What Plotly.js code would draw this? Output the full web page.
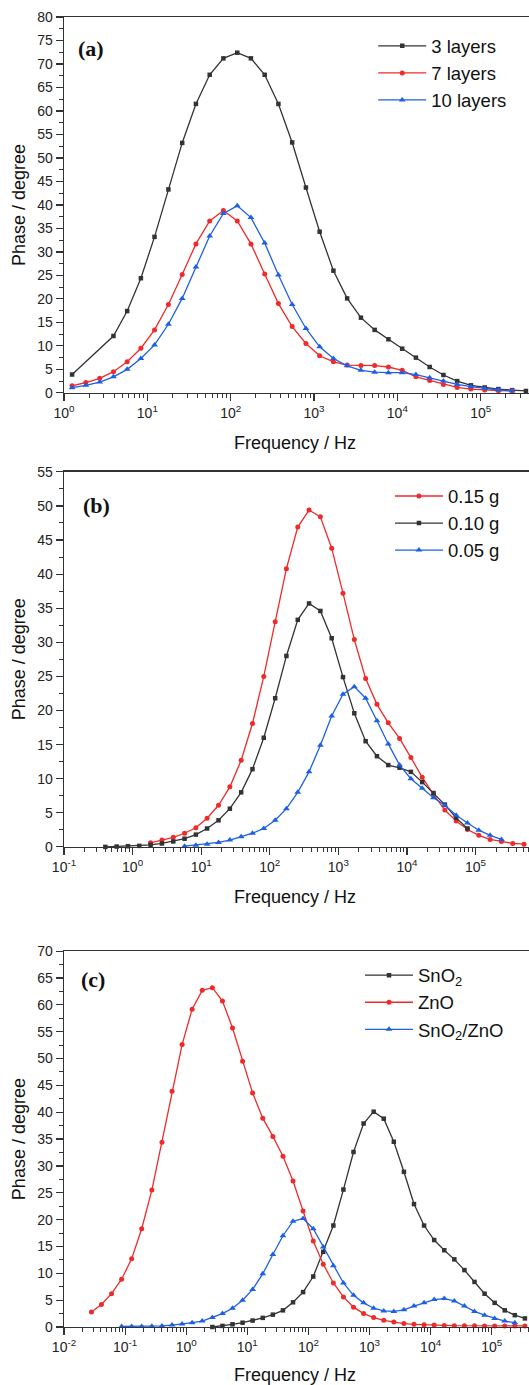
<!DOCTYPE html>
<html><head><meta charset="utf-8">
<script src="https://cdn.plot.ly/plotly-3.0.1.min.js"></script>
<style>html,body{margin:0;padding:0;background:#fff}</style>
</head><body><div id="chart" style="width:529px;height:1385px"></div>
<script>
// ---------- Data (frequency in Hz, phase in degree) ----------
const freqA = [1.25, 1.83, 2.68, 3.92, 5.73, 8.37, 12.2, 17.9, 26.2, 38.3, 56.0, 81.8, 120, 175, 256, 374, 547, 800, 1169, 1710, 2500, 3656, 5346, 7816, 11429, 16711, 24434, 35727, 52240, 76383, 111686, 163305, 238781, 349140];
const layers3 = [3.9, null, null, 12.1, 17.4, 24.4, 33.2, 43.3, 53.2, 61.5, 67.7, 71.2, 72.4, 71.2, 67.7, 61.5, 53.3, 43.7, 34.3, 26.0, 20.1, 16.0, 13.4, 11.4, 9.4, 7.5, 5.5, 3.8, 2.5, 1.6, 1.15, 0.8, 0.57, 0.4];
const layers7 = [1.5, 2.2, 3.1, 4.5, 6.6, 9.5, 13.4, 18.8, 25.2, 31.7, 36.6, 38.8, 36.6, 31.7, 25.3, 19.0, 14.1, 10.5, 7.9, 6.6, 5.9, 5.8, 5.8, 5.5, 4.8, 3.4, 2.6, 1.8, 1.15, 0.8, 0.6, 0.45, 0.4, null];
const layers10 = [1.1, 1.6, 2.3, 3.4, 5.0, 7.3, 10.2, 14.6, 20.1, 26.8, 33.4, 38.2, 39.8, 37.3, 31.9, 25.1, 18.8, 13.7, 9.8, 7.3, 5.75, 4.8, 4.4, 4.3, 4.3, 3.9, 3.2, 2.5, 1.8, 1.3, 0.9, 0.6, 0.45, null];

const freqB = [0.401, 0.586, 0.857, 1.25, 1.83, 2.68, 3.92, 5.73, 8.37, 12.2, 17.9, 26.2, 38.3, 56.0, 81.8, 120, 175, 256, 374, 547, 800, 1169, 1710, 2500, 3656, 5346, 7816, 11429, 16711, 24434, 35727, 52240, 76383, 111686, 163305, 238781, 349140, 510505];
const g015 = [null, null, null, null, 0.6, 1.0, 1.4, 2.0, 2.8, 4.2, 6.1, 8.8, 12.7, 18.1, 25.0, 33.0, 40.8, 46.9, 49.4, 48.4, 43.8, 37.2, 30.4, 24.7, 20.9, 18.2, 15.9, 13.1, 10.2, 7.7, 5.4, 3.8, 2.55, 1.7, 1.1, 0.8, 0.5, 0.4];
const g010 = [0.0, 0.05, 0.1, 0.15, 0.3, 0.5, 0.8, 1.2, 1.8, 2.7, 3.9, 5.6, 8.0, 11.4, 16.0, 21.8, 28.0, 33.3, 35.7, 34.6, 30.6, 24.9, 19.6, 15.5, 13.3, 12.0, 11.6, 11.0, 9.5, 7.9, 6.2, 4.25, 2.7, null, null, null, null, null];
const g005 = [null, null, null, null, null, null, null, 0.1, 0.25, 0.4, 0.65, 1.0, 1.5, 2.0, 2.7, 3.9, 5.6, 8.0, 11.0, 14.9, 19.2, 22.4, 23.5, 21.8, 18.5, 15.1, 12.0, 10.0, 8.6, 7.2, 6.1, 4.65, 3.5, 2.45, 1.7, 1.1, null, null];

const freqC = [0.0281, 0.0410, 0.0600, 0.0877, 0.128, 0.187, 0.274, 0.401, 0.586, 0.857, 1.25, 1.83, 2.68, 3.92, 5.73, 8.37, 12.2, 17.9, 26.2, 38.3, 56.0, 81.8, 120, 175, 256, 374, 547, 800, 1169, 1710, 2500, 3656, 5346, 7816, 11429, 16711, 24434, 35727, 52240, 76383, 111686, 163305, 238781, 349140];
const sno2 = [null, null, null, null, null, null, null, null, null, null, null, null, 0.0, 0.2, 0.5, 0.8, 1.2, 1.7, 2.3, 3.1, 4.6, 6.5, 9.4, 14.0, 18.9, 25.6, 32.6, 37.9, 40.1, 38.8, 34.5, 28.9, 22.9, 18.9, 16.2, 14.3, 12.6, 10.6, 8.4, 6.2, 4.5, 3.1, 2.2, 1.6];
const zno = [2.8, 4.2, 6.2, 8.9, 12.7, 18.3, 25.5, 34.4, 43.9, 52.6, 59.2, 62.7, 63.2, 60.7, 55.7, 49.5, 43.6, 38.9, 35.5, 31.8, 27.2, 21.6, 16.0, 11.7, 8.2, 5.6, 3.7, 2.5, 1.75, 1.25, 0.93, 0.63, 0.5, 0.4, 0.35, 0.3, 0.25, 0.25, 0.25, 0.2, 0.2, 0.2, 0.2, 0.2];
const sno2zno = [null, null, null, 0.1, 0.1, 0.1, 0.15, 0.2, 0.35, 0.55, 0.8, 1.1, 1.75, 2.5, 3.5, 5.0, 7.0, 9.9, 13.5, 17.0, 19.7, 20.2, 18.3, 14.9, 11.4, 8.2, 5.9, 4.5, 3.5, 3.0, 2.9, 3.2, 3.9, 4.5, 5.1, 5.3, 4.85, 3.9, 2.9, 2.2, 1.6, 1.1, 0.8, null];

const namesA = ['3 layers', '7 layers', '10 layers'];
const namesB = ['0.15 g', '0.10 g', '0.05 g'];
const namesC = ['SnO<sub>2</sub>', 'ZnO', 'SnO<sub>2</sub>/ZnO'];
const panelLabels = ['(a)', '(b)', '(c)'];
const xTitle = 'Frequency / Hz';
const yTitle = 'Phase / degree';
const decadesA = [0, 1, 2, 3, 4, 5];
const decadesB = [-1, 0, 1, 2, 3, 4, 5];
const decadesC = [-2, -1, 0, 1, 2, 3, 4, 5];

// ---------- Styling ----------
const BLACK = '#333333', RED = '#f02a2a', BLUE = '#1d60e6';
const FONT = 'Liberation Sans, Arial, sans-serif';
const sq = {symbol: 'square', size: 4.5};
const ci = {symbol: 'circle', size: 5};
const tr = {symbol: 'triangle-up', size: 6};

function tr_(x, y, name, color, mk, xa, ya, leg) {
  return {x: x, y: y, name: name, type: 'scatter', mode: 'lines+markers',
    line: {color: color, width: 1.3}, marker: Object.assign({color: color}, mk),
    xaxis: xa, yaxis: ya, legend: leg, connectgaps: true, cliponaxis: false};
}

const data = [
  tr_(freqA, layers3, namesA[0], BLACK, sq, 'x', 'y', 'legend'),
  tr_(freqA, layers7, namesA[1], RED, ci, 'x', 'y', 'legend'),
  tr_(freqA, layers10, namesA[2], BLUE, tr, 'x', 'y', 'legend'),
  tr_(freqB, g015, namesB[0], RED, ci, 'x2', 'y2', 'legend2'),
  tr_(freqB, g010, namesB[1], BLACK, sq, 'x2', 'y2', 'legend2'),
  tr_(freqB, g005, namesB[2], BLUE, tr, 'x2', 'y2', 'legend2'),
  tr_(freqC, sno2, namesC[0], BLACK, sq, 'x3', 'y3', 'legend3'),
  tr_(freqC, zno, namesC[1], RED, ci, 'x3', 'y3', 'legend3'),
  tr_(freqC, sno2zno, namesC[2], BLUE, tr, 'x3', 'y3', 'legend3')
];

function minorVals(decs) {
  const out = [];
  for (let d = decs[0] - 1; d <= decs[decs.length - 1] + 1; d++)
    for (let m = 2; m <= 9; m++) out.push(m * Math.pow(10, d));
  return out;
}
function xAxis(decs, range, anchor) {
  return {type: 'log', range: range, anchor: anchor, domain: [0, 1],
    tickmode: 'array', tickvals: decs.map(d => Math.pow(10, d)),
    ticktext: decs.map(d => '10<sup>' + d + '</sup>'),
    ticks: 'outside', ticklen: 7, tickwidth: 1.2, tickcolor: '#333',
    minor: {tickmode: 'array', tickvals: minorVals(decs), ticks: 'outside', ticklen: 4, tickwidth: 1, tickcolor: '#333'},
    showline: true, linecolor: '#333', linewidth: 1.4, mirror: true,
    showgrid: false, zeroline: false,
    tickfont: {family: FONT, size: 14, color: '#222'}};
}
function yAxis(max, domain, anchor) {
  return {range: [0, max], domain: domain, anchor: anchor, dtick: 5, tick0: 0,
    ticks: 'outside', ticklen: 7, tickwidth: 1.2, tickcolor: '#333',
    minor: {dtick: 2.5, ticks: 'outside', ticklen: 4, tickwidth: 1, tickcolor: '#333'},
    showline: true, linecolor: '#333', linewidth: 1.4, mirror: false,
    showgrid: false, zeroline: false,
    tickfont: {family: FONT, size: 14, color: '#222'}};
}
function legendAt(x, y) {
  return {x: x, y: y, xanchor: 'left', yanchor: 'top', bgcolor: 'rgba(0,0,0,0)',
    font: {family: FONT, size: 18.5, color: '#111'}, itemwidth: 48, tracegroupgap: 0};
}

const ann = [];
const titleY = [0.6747, 0.3283, -0.0370];
const ytitleY = [0.8565, 0.5097, 0.1434];
titleY.forEach(v => ann.push({xref: 'paper', yref: 'paper', x: 0.4968, y: v, text: xTitle, showarrow: false,
  xanchor: 'center', yanchor: 'middle', font: {family: FONT, size: 18, color: '#111'}}));
ytitleY.forEach(v => ann.push({xref: 'paper', yref: 'paper', x: -0.0968, y: v, text: yTitle, showarrow: false, textangle: -90,
  xanchor: 'center', yanchor: 'middle', font: {family: FONT, size: 18, color: '#111'}}));
const lblPos = [[0.026, 0.917, 'x domain', 'y domain'], [0.037, 0.911, 'x2 domain', 'y2 domain'], [0.032, 0.925, 'x3 domain', 'y3 domain']];
lblPos.forEach((p, i) => ann.push({xref: p[2], yref: p[3], x: p[0], y: p[1], text: '<b>' + panelLabels[i] + '</b>', showarrow: false,
  xanchor: 'left', yanchor: 'middle', font: {family: 'Liberation Serif, Times New Roman, serif', size: 22, color: '#111'}}));

const layout = {
  width: 529, height: 1385, paper_bgcolor: '#fff', plot_bgcolor: '#fff',
  margin: {l: 64, r: 0, t: 17, b: 58.3, pad: 0},
  showlegend: true,
  xaxis: xAxis(decadesA, [0, 5.58], 'y'),
  yaxis: yAxis(80, [0.7131, 1], 'x'),
  xaxis2: xAxis(decadesB, [-1, 5.78], 'y2'),
  yaxis2: yAxis(55, [0.3665, 0.6528], 'x2'),
  xaxis3: xAxis(decadesC, [-2, 5.61], 'y3'),
  yaxis3: yAxis(70, [0, 0.2869], 'x3'),
  legend: legendAt(0.665, 0.9921),
  legend2: legendAt(0.701, 0.6485),
  legend3: legendAt(0.6366, 0.2827),
  annotations: ann
};

Plotly.newPlot('chart', data, layout, {displayModeBar: false, staticPlot: true});
</script></body></html>
